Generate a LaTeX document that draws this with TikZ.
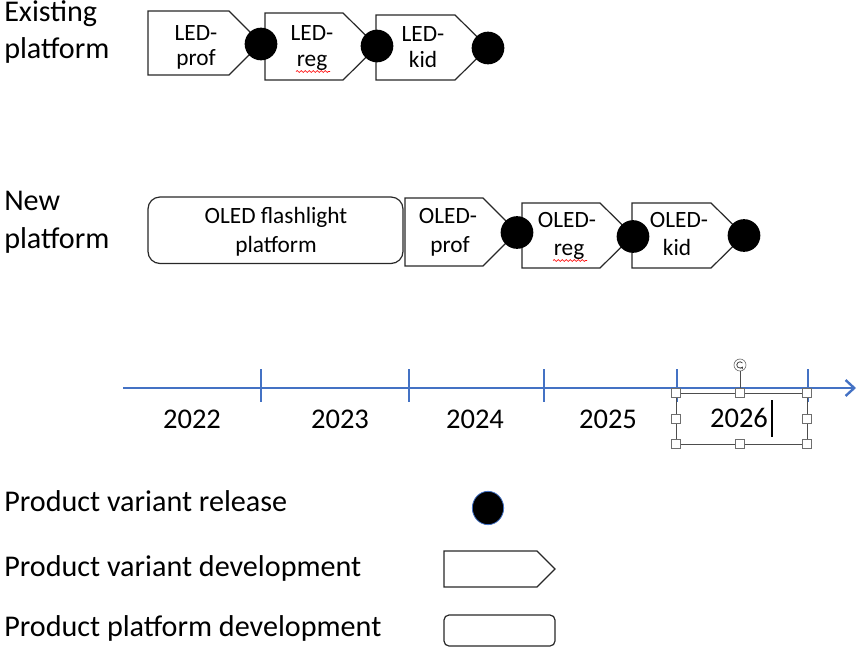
\documentclass[tikz,border=0pt]{standalone}
\usepackage{fontspec}
\setmainfont{Carlito}
\usetikzlibrary{arrows.meta,decorations.pathmorphing,shapes.geometric}
\definecolor{axisblue}{RGB}{68,114,196}
\definecolor{outline}{RGB}{40,40,40}
\definecolor{selgray}{RGB}{110,110,110}
\begin{document}
\begin{tikzpicture}[x=0.75pt,y=-0.75pt,
  bigtext/.style={font=\fontsize{22.6}{27}\selectfont, inner sep=0pt, anchor=base west},
  boxtext/.style={font=\fontsize{17.5}{21}\selectfont, inner sep=0pt, anchor=base},
  yeartext/.style={font=\fontsize{21.4}{25}\selectfont, inner sep=0pt, anchor=base},
  shapeline/.style={draw=outline, line width=0.9pt, fill=white},
  release/.style={circle, fill=black, inner sep=0pt, minimum size=24.5pt},
  axis/.style={draw=axisblue, line width=1.8pt},
  handle/.style={rectangle, draw=selgray, fill=white, line width=0.5pt, minimum size=6.5pt, inner sep=0pt},
  squiggle/.style={draw=red, line width=0.5pt, decorate, decoration={snake, amplitude=0.7pt, segment length=3pt}}
]
\useasboundingbox (0,0) rectangle (861,647);

% ---- side labels ----
\node[bigtext] (ex1) at (4,21.5) {Existing};
\node[bigtext] (ex2) at (4,58) {platform};
\node[bigtext] (nw1) at (4,210) {New};
\node[bigtext] (nw2) at (4,248) {platform};

% ---- existing platform row ----
\draw[shapeline] (148,11) -- (229,11) -- (261,43) -- (229,75) -- (148,75) -- cycle;
\draw[shapeline] (265,13) -- (343,13) -- (377,46.5) -- (343,80) -- (265,80) -- cycle;
\draw[shapeline] (376,15) -- (455,15) -- (488,47.5) -- (455,80) -- (376,80) -- cycle;
\node[boxtext] (l1a) at (196,40.5) {LED-};
\node[boxtext] (l1b) at (196,65) {prof};
\node[boxtext] (l2a) at (312,40.5) {LED-};
\node[boxtext] (l2b) at (312,66.5) {reg};
\node[boxtext] (l3a) at (423,41) {LED-};
\node[boxtext] (l3b) at (423,67) {kid};
\draw[squiggle] (296,71.5) -- (330,71.5);
\node[release] (e1) at (261,44) {};
\node[release] (e2) at (377,46) {};
\node[release] (e3) at (488,48) {};

% ---- new platform row ----
\draw[shapeline, rounded corners=12*0.75pt] (148,197) rectangle (403,263.5);
\node[boxtext] (pf1) at (276,223) {OLED flashlight};
\node[boxtext] (pf2) at (276,252) {platform};
\draw[shapeline] (405,198) -- (483,198) -- (517,232) -- (483,266) -- (405,266) -- cycle;
\draw[shapeline] (522,203) -- (600,203) -- (633,235.5) -- (600,268) -- (522,268) -- cycle;
\draw[shapeline] (632,203) -- (711,203) -- (744,235.5) -- (711,268) -- (632,268) -- cycle;
\node[boxtext] (o1a) at (448,223) {OLED-};
\node[boxtext] (o1b) at (450,252) {prof};
\node[boxtext] (o2a) at (567,227) {OLED-};
\node[boxtext] (o2b) at (569,255) {reg};
\node[boxtext] (o3a) at (679,227) {OLED-};
\node[boxtext] (o3b) at (677,255) {kid};
\draw[squiggle] (553,260.5) -- (587,260.5);
\node[release] (n1) at (517,232.5) {};
\node[release] (n2) at (633,236.5) {};
\node[release] (n3) at (744,235.5) {};

% ---- timeline ----
\coordinate (tstart) at (123,388);
\coordinate (tend) at (856,388);
\draw[axis, -{Straight Barb[length=6.5pt,width=12pt]}] (tstart) -- (tend);
\foreach \tx in {261,409,544,677,808} {
  \draw[axis] (\tx,369) -- (\tx,402);
}
\node[yeartext] (y22) at (192,428) {2022};
\node[yeartext] (y23) at (340,428) {2023};
\node[yeartext] (y24) at (475,428) {2024};
\node[yeartext] (y25) at (608,428) {2025};
\node[yeartext] (y26) at (739,427) {2026};

% ---- selection frame round 2026 ----
\draw[selgray!70!black, line width=0.6pt] (676,393) rectangle (807,444);
\node[handle] (hTL) at (676,393) {};
\node[handle] (hTM) at (740,393) {};
\node[handle] (hTR) at (807,393) {};
\node[handle] (hML) at (676,419) {};
\node[handle] (hMR) at (807,419) {};
\node[handle] (hBL) at (676,444) {};
\node[handle] (hBM) at (740,444) {};
\node[handle] (hBR) at (807,444) {};
\node[circle, draw=selgray, fill=white, line width=0.5pt, minimum size=9pt, inner sep=0pt] (rot) at (740,365) {};
\draw[selgray!70!black, line width=0.6pt] (rot) -- (hTM);
\draw[selgray!60!black, line width=0.6pt, -{Stealth[length=1.8pt,width=2.4pt]}]
  ([shift={(40:2.4pt)}]rot.center) arc[start angle=40, end angle=330, radius=2.4pt];
\draw[black, line width=1.3pt] (772,400) -- (772,437);

% ---- legend ----
\node[bigtext] (lg1) at (4,511.5) {Product variant release};
\node[bigtext] (lg2) at (4,576.5) {Product variant development};
\node[bigtext] (lg3) at (4,636.5) {Product platform development};
\node[ellipse, fill=black, draw=axisblue, line width=0.6pt, inner sep=0pt,
      minimum width=23.5pt, minimum height=25pt] (lgc) at (488,508) {};
\draw[shapeline] (444,551) -- (537,551) -- (555,569) -- (537,587) -- (444,587) -- cycle;
\draw[shapeline, rounded corners=5*0.75pt] (444,615) rectangle (555,646);
\end{tikzpicture}
\end{document}
